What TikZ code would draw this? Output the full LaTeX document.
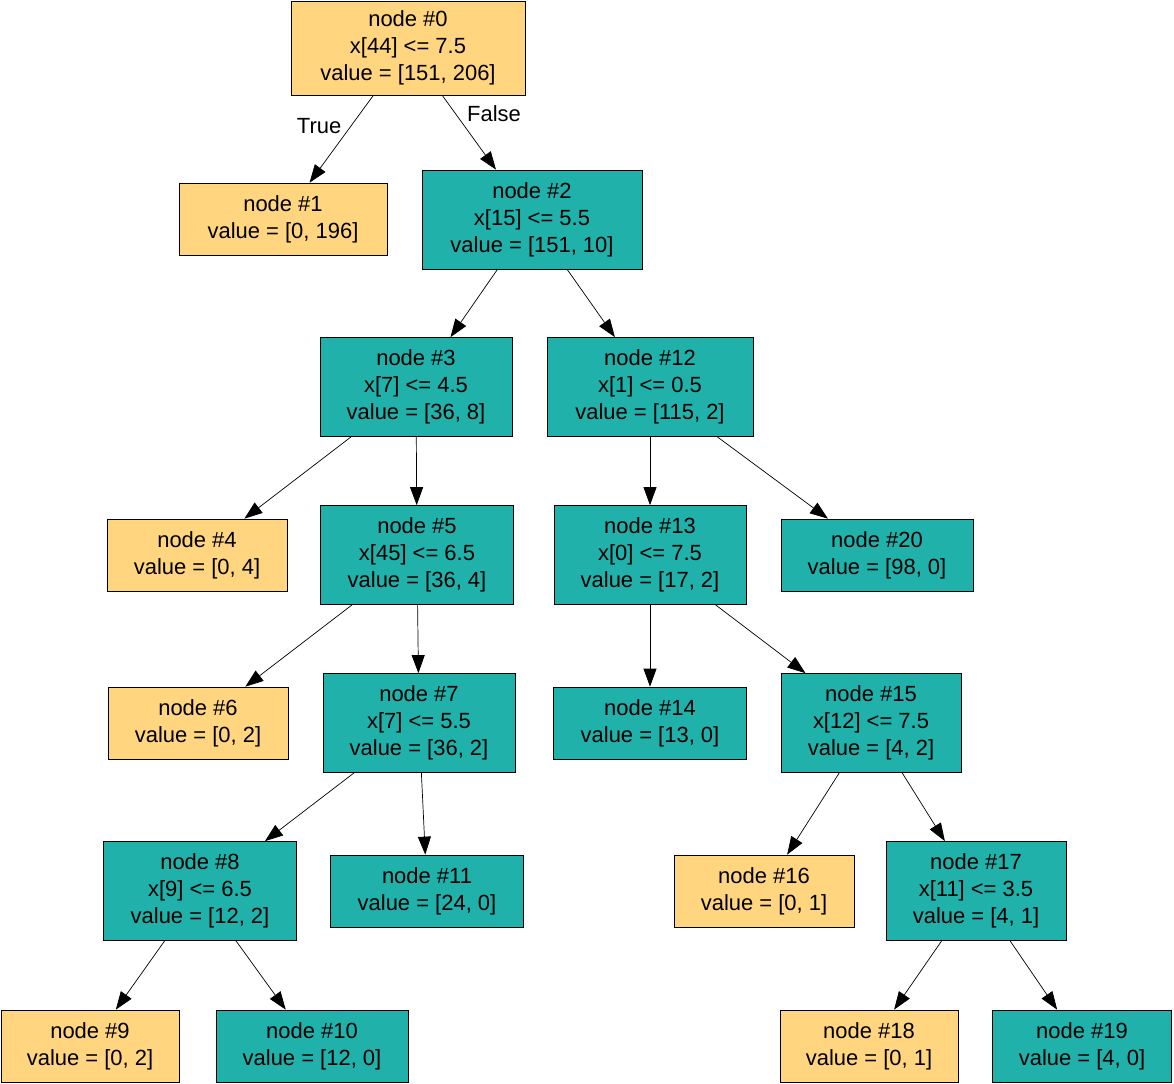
\documentclass[tikz,border=0pt]{standalone}
\usepackage{fontspec}
\setmainfont{Liberation Sans}
\usetikzlibrary{arrows.meta}
\definecolor{leafcol}{HTML}{FFD580}
\definecolor{splitcol}{HTML}{20B2AA}
\tikzset{
  box/.style={draw,thin,align=center,inner sep=0pt,font=\fontsize{12.5}{15.3}\selectfont},
  yes/.style={box,fill=leafcol},
  no/.style={box,fill=splitcol},
  leaf/.style={minimum height=1.44cm},
  split/.style={minimum height=1.98cm},
  edge/.style={-{Triangle[length=3.6mm,width=2.6mm]},thin}
}
\begin{document}
\begin{tikzpicture}
\useasboundingbox (0,0) rectangle (23.48,-21.66);
%racine
\node[yes,minimum width=4.68cm,minimum height=1.88cm] (n0) at (8.16,-0.96) {node \#0\\x[44] <= 7.5\\value = [151, 206]};
\node[yes,leaf,minimum width=4.16cm] (n1) at (5.66,-4.38) {node \#1\\value = [0, 196]};
\node[no,split,minimum width=4.4cm] (n2) at (10.64,-4.39) {node \#2\\x[15] <= 5.5\\value = [151, 10]};
%niveau 2
\node[no,split,minimum width=3.84cm] (n3) at (8.32,-7.74) {node \#3\\x[7] <= 4.5\\value = [36, 8]};
\node[no,split,minimum width=4.12cm] (n12) at (13.0,-7.74) {node \#12\\x[1] <= 0.5\\value = [115, 2]};
%niveau 3
\node[yes,leaf,minimum width=3.6cm] (n4) at (3.94,-11.1) {node \#4\\value = [0, 4]};
\node[no,split,minimum width=3.86cm] (n5) at (8.34,-11.1) {node \#5\\x[45] <= 6.5\\value = [36, 4]};
\node[no,split,minimum width=3.84cm] (n13) at (13.0,-11.1) {node \#13\\x[0] <= 7.5\\value = [17, 2]};
\node[no,leaf,minimum width=3.84cm] (n20) at (17.54,-11.1) {node \#20\\value = [98, 0]};
%niveau 4
\node[yes,leaf,minimum width=3.6cm] (n6) at (3.96,-14.46) {node \#6\\value = [0, 2]};
\node[no,split,minimum width=3.84cm] (n7) at (8.38,-14.46) {node \#7\\x[7] <= 5.5\\value = [36, 2]};
\node[no,leaf,minimum width=3.86cm] (n14) at (13.0,-14.46) {node \#14\\value = [13, 0]};
\node[no,split,minimum width=3.6cm] (n15) at (17.42,-14.46) {node \#15\\x[12] <= 7.5\\value = [4, 2]};
%niveau 5
\node[no,split,minimum width=3.86cm] (n8) at (4.0,-17.82) {node \#8\\x[9] <= 6.5\\value = [12, 2]};
\node[no,leaf,minimum width=3.86cm] (n11) at (8.54,-17.82) {node \#11\\value = [24, 0]};
\node[yes,leaf,minimum width=3.6cm] (n16) at (15.28,-17.82) {node \#16\\value = [0, 1]};
\node[no,split,minimum width=3.6cm] (n17) at (19.52,-17.82) {node \#17\\x[11] <= 3.5\\value = [4, 1]};
%niveau 6
\node[yes,leaf,minimum width=3.56cm] (n9) at (1.8,-20.92) {node \#9\\value = [0, 2]};
\node[no,leaf,minimum width=3.84cm] (n10) at (6.24,-20.92) {node \#10\\value = [12, 0]};
\node[yes,leaf,minimum width=3.56cm] (n18) at (17.38,-20.92) {node \#18\\value = [0, 1]};
\node[no,leaf,minimum width=3.58cm] (n19) at (21.64,-20.92) {node \#19\\value = [4, 0]};
%aretes
\draw[edge] (n0) -- (n1) node[pos=0.35,left=2pt,font=\fontsize{12.5}{15}\selectfont] {True};
\draw[edge] (n0) -- (n2) node[pos=0.25,right=3pt,font=\fontsize{12.5}{15}\selectfont] {False};
\foreach \a/\b in {n2/n3,n2/n12,n3/n4,n3/n5,n12/n13,n12/n20,n5/n6,n5/n7,n13/n14,n13/n15,
  n7/n8,n7/n11,n15/n16,n15/n17,n8/n9,n8/n10,n17/n18,n17/n19}
  \draw[edge] (\a) -- (\b);
\end{tikzpicture}
\end{document}
